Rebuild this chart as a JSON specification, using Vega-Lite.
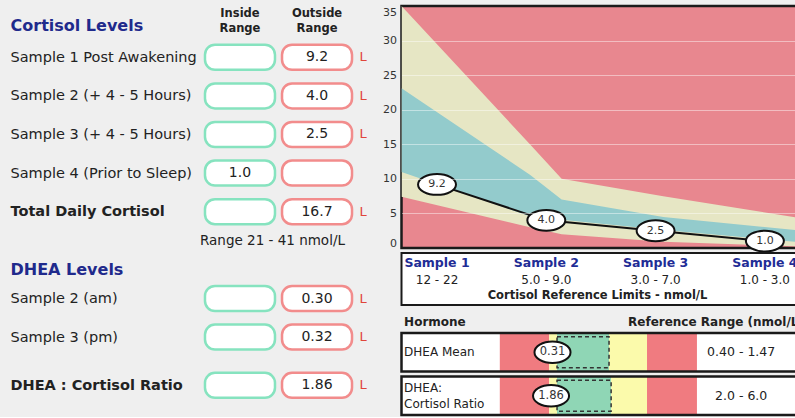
{
  "$schema": "https://vega.github.io/schema/vega-lite/v6.json",
  "background": "#efefef",
  "padding": {"left": 10, "top": 1, "right": 0, "bottom": 0},
  "spacing": 45.5,
  "bounds": "flush",
  "config": {"view": {"stroke": null}, "font": "DejaVu Sans"},
  "datasets": {
    "results": [
      {"label": "Sample 1 Post Awakening", "result": "9.2", "column": "Outside Range", "flag": "L"},
      {"label": "Sample 2 (+ 4 - 5 Hours)", "result": "4.0", "column": "Outside Range", "flag": "L"},
      {"label": "Sample 3 (+ 4 - 5 Hours)", "result": "2.5", "column": "Outside Range", "flag": "L"},
      {"label": "Sample 4 (Prior to Sleep)", "result": "1.0", "column": "Inside Range", "flag": ""},
      {"label": "Total Daily Cortisol", "result": "16.7", "column": "Outside Range", "flag": "L"},
      {"label": "Sample 2 (am)", "result": "0.30", "column": "Outside Range", "flag": "L"},
      {"label": "Sample 3 (pm)", "result": "0.32", "column": "Outside Range", "flag": "L"},
      {"label": "DHEA : Cortisol Ratio", "result": "1.86", "column": "Outside Range", "flag": "L"}
    ],
    "columns": [
      {"label": "Cortisol Levels", "column": "Inside Range"},
      {"label": "Cortisol Levels", "column": "Outside Range"}
    ],
    "notes": [{"label": "Range 21 - 41 nmol/L"}],
    "samples": [
      {"sample": 1, "name": "Sample 1", "limits": "12 - 22", "cortisol": 9.2},
      {"sample": 2, "name": "Sample 2", "limits": "5.0 - 9.0", "cortisol": 4.0},
      {"sample": 3, "name": "Sample 3", "limits": "3.0 - 7.0", "cortisol": 2.5},
      {"sample": 4, "name": "Sample 4", "limits": "1.0 - 3.0", "cortisol": 1.0}
    ],
    "bands": [
      {"s": 0.675, "low_border": 7.4, "ref_low": 11.0, "ref_high": 23.1, "high_border": 35},
      {"s": 1.85, "low_border": 3.0, "ref_low": 4.6, "ref_high": 10.6, "high_border": 15.0},
      {"s": 2.14, "low_border": 2.0, "ref_low": 4.1, "ref_high": 7.0, "high_border": 10.0},
      {"s": 3.07, "low_border": 0.9, "ref_low": 2.6, "ref_high": 4.5, "high_border": 7.5},
      {"s": 4.34, "low_border": 0.2, "ref_low": 0.8, "ref_high": 2.5, "high_border": 4.3}
    ],
    "caption": [{"caption": "Cortisol Reference Limits - nmol/L"}],
    "header": [{"column": "Hormone"}, {"column": "Reference Range (nmol/L)"}],
    "hormones": [
      {"hormone": "DHEA Mean", "result": "0.31", "position": -0.087, "reference": "0.40 - 1.47"},
      {"hormone": "DHEA:\nCortisol Ratio", "result": "1.86", "position": -0.115, "reference": "2.0 - 6.0"}
    ],
    "zones": [
      {"hormone": "DHEA Mean", "zone": "low", "start": -1.1, "end": -0.15},
      {"hormone": "DHEA Mean", "zone": "borderline low", "start": -0.15, "end": 0},
      {"hormone": "DHEA Mean", "zone": "in range", "start": 0, "end": 1},
      {"hormone": "DHEA Mean", "zone": "borderline high", "start": 1, "end": 1.73},
      {"hormone": "DHEA Mean", "zone": "high", "start": 1.73, "end": 2.69},
      {"hormone": "DHEA:\nCortisol Ratio", "zone": "low", "start": -1.1, "end": -0.15},
      {"hormone": "DHEA:\nCortisol Ratio", "zone": "borderline low", "start": -0.15, "end": 0},
      {"hormone": "DHEA:\nCortisol Ratio", "zone": "in range", "start": 0, "end": 1.04},
      {"hormone": "DHEA:\nCortisol Ratio", "zone": "borderline high", "start": 1.04, "end": 1.73},
      {"hormone": "DHEA:\nCortisol Ratio", "zone": "high", "start": 1.73, "end": 2.69}
    ]
  },
  "hconcat": [
    {
      "width": 155,
      "height": 382.4,
      "encoding": {
        "y": {
          "field": "label", "type": "nominal",
          "scale": {
            "type": "point", "padding": 0.316,
            "domain": ["_a", "_b", "Cortisol Levels", "_1", "_2", "Sample 1 Post Awakening", "_4", "_5", "_6",
              "Sample 2 (+ 4 - 5 Hours)", "_8", "_9", "_10", "Sample 3 (+ 4 - 5 Hours)", "_12", "_13", "_14",
              "Sample 4 (Prior to Sleep)", "_16", "_17", "_18", "Total Daily Cortisol", "_20", "_21",
              "Range 21 - 41 nmol/L", "_23", "_24", "DHEA Levels", "_26", "_27", "Sample 2 (am)", "_29", "_30", "_31",
              "Sample 3 (pm)", "_33", "_34", "_35", "_36", "DHEA : Cortisol Ratio"]
          },
          "axis": {
            "orient": "left", "domain": false, "ticks": false, "title": null, "grid": false,
            "labelAlign": "left", "labelPadding": 191, "labelOverlap": false, "labelLimit": 0,
            "labelExpr": "indexof(datum.value, '_') == 0 || indexof(datum.value, 'Range') == 0 ? '' : datum.value",
            "labelOffset": {"condition": {"test": "datum.value == 'Cortisol Levels'", "value": -3}, "value": 0},
            "labelFontSize": {"condition": {"test": "datum.value == 'Cortisol Levels' || datum.value == 'DHEA Levels'", "value": 16}, "value": 14.5},
            "labelFontWeight": {"condition": {"test": "datum.value == 'Cortisol Levels' || datum.value == 'DHEA Levels' || datum.value == 'Total Daily Cortisol' || datum.value == 'DHEA : Cortisol Ratio'", "value": "bold"}, "value": "normal"},
            "labelColor": {"condition": {"test": "datum.value == 'Cortisol Levels' || datum.value == 'DHEA Levels'", "value": "#1f2a8c"}, "value": "#222222"}
          }
        }
      },
      "layer": [
        {
          "data": {"name": "results"},
          "mark": {"type": "rect", "width": 70, "height": 25, "cornerRadius": 10, "fill": "white", "stroke": "#86e3bf", "strokeWidth": 2.5},
          "encoding": {"x": {"datum": "Inside Range", "type": "nominal", "scale": {"type": "point", "domain": ["Inside Range", "Outside Range"], "padding": 0.506}, "axis": null}}
        },
        {
          "data": {"name": "results"},
          "mark": {"type": "rect", "width": 70, "height": 25, "cornerRadius": 10, "fill": "white", "stroke": "#f28c8c", "strokeWidth": 2.5},
          "encoding": {"x": {"datum": "Outside Range", "type": "nominal"}}
        },
        {
          "data": {"name": "results"},
          "mark": {"type": "text", "fontSize": 14, "color": "#222222"},
          "encoding": {"x": {"field": "column", "type": "nominal"}, "text": {"field": "result"}}
        },
        {
          "data": {"name": "results"},
          "mark": {"type": "text", "fontSize": 13, "color": "#e0453a", "dx": 46},
          "encoding": {"x": {"datum": "Outside Range", "type": "nominal"}, "text": {"field": "flag"}}
        },
        {
          "data": {"name": "columns"},
          "mark": {"type": "text", "fontSize": 11.5, "fontWeight": "bold", "color": "#222222", "lineBreak": " ", "baseline": "top", "dy": -20, "lineHeight": 15},
          "encoding": {"x": {"field": "column", "type": "nominal"}, "text": {"field": "column"}}
        },
        {
          "data": {"name": "notes"},
          "mark": {"type": "text", "fontSize": 13.5, "color": "#222222", "align": "left", "dx": -40},
          "encoding": {"x": {"datum": "Inside Range", "type": "nominal"}, "text": {"field": "label"}}
        }
      ]
    },
    {
      "spacing": 5,
      "bounds": "flush",
      "vconcat": [
        {
          "width": 400,
          "height": 242,
          "view": {"fill": "#e8878f", "stroke": "#1a1a1a", "strokeWidth": 2.5},
          "encoding": {
            "x": {"type": "quantitative", "scale": {"domain": [0.675, 4.335], "nice": false, "zero": false}, "axis": null}
          },
          "layer": [
            {
              "data": {"name": "bands"},
              "mark": {"type": "area", "color": "#e6e6c4", "opacity": 1, "clip": true},
              "encoding": {
                "x": {"field": "s", "type": "quantitative"},
                "y": {"field": "low_border", "type": "quantitative", "scale": {"domain": [0, 35], "nice": false},
                  "axis": {"values": [0, 5, 10, 15, 20, 25, 30, 35], "title": null, "domain": false, "ticks": false, "labelPadding": 5,
                    "labelFontSize": 11, "labelColor": "#333333", "labelFlush": true, "labelOverlap": false, "grid": true, "gridColor": "white",
                    "gridOpacity": {"condition": {"test": "datum.value == 0 || datum.value == 35", "value": 0}, "value": 0.45}, "zindex": 1}},
                "y2": {"field": "high_border"}
              }
            },
            {
              "data": {"name": "bands"},
              "mark": {"type": "area", "color": "#93cbcc", "opacity": 1, "clip": true},
              "encoding": {
                "x": {"field": "s", "type": "quantitative"},
                "y": {"field": "ref_low", "type": "quantitative",
                  "axis": {"values": [0, 5, 10, 15, 20, 25, 30, 35], "title": null, "domain": false, "ticks": false, "labelPadding": 5,
                    "labelFontSize": 11, "labelColor": "#333333", "labelFlush": true, "labelOverlap": false, "grid": true, "gridColor": "white",
                    "gridOpacity": {"condition": {"test": "datum.value == 0 || datum.value == 35", "value": 0}, "value": 0.45}, "zindex": 1}},
                "y2": {"field": "ref_high"}
              }
            },
            {
              "data": {"name": "samples"},
              "mark": {"type": "line", "color": "#111111", "strokeWidth": 2},
              "encoding": {
                "x": {"field": "sample", "type": "quantitative"},
                "y": {"field": "cortisol", "type": "quantitative",
                  "axis": {"values": [0, 5, 10, 15, 20, 25, 30, 35], "title": null, "domain": false, "ticks": false, "labelPadding": 5,
                    "labelFontSize": 11, "labelColor": "#333333", "labelFlush": true, "labelOverlap": false, "grid": true, "gridColor": "white",
                    "gridOpacity": {"condition": {"test": "datum.value == 0 || datum.value == 35", "value": 0}, "value": 0.45}, "zindex": 1}}
              }
            },
            {
              "data": {"name": "samples"},
              "mark": {"type": "point", "shape": "M-1,0A1,0.55,0,1,0,1,0A1,0.55,0,1,0,-1,0Z", "size": 1440, "filled": true, "fill": "white", "stroke": "#111111", "strokeWidth": 2, "opacity": 1},
              "encoding": {
                "x": {"field": "sample", "type": "quantitative"},
                "y": {"field": "cortisol", "type": "quantitative",
                  "axis": {"values": [0, 5, 10, 15, 20, 25, 30, 35], "title": null, "domain": false, "ticks": false, "labelPadding": 5,
                    "labelFontSize": 11, "labelColor": "#333333", "labelFlush": true, "labelOverlap": false, "grid": true, "gridColor": "white",
                    "gridOpacity": {"condition": {"test": "datum.value == 0 || datum.value == 35", "value": 0}, "value": 0.45}, "zindex": 1}}
              }
            },
            {
              "data": {"name": "samples"},
              "mark": {"type": "text", "fontSize": 11, "color": "#333333"},
              "encoding": {
                "x": {"field": "sample", "type": "quantitative"},
                "y": {"field": "cortisol", "type": "quantitative",
                  "axis": {"values": [0, 5, 10, 15, 20, 25, 30, 35], "title": null, "domain": false, "ticks": false, "labelPadding": 5,
                    "labelFontSize": 11, "labelColor": "#333333", "labelFlush": true, "labelOverlap": false, "grid": true, "gridColor": "white",
                    "gridOpacity": {"condition": {"test": "datum.value == 0 || datum.value == 35", "value": 0}, "value": 0.45}, "zindex": 1}},
                "text": {"field": "cortisol", "format": ".1f"}
              }
            }
          ]
        },
        {
          "width": 400,
          "height": 52,
          "view": {"fill": "white", "stroke": "#1a1a1a", "strokeWidth": 2},
          "layer": [
            {
              "data": {"name": "samples"},
              "mark": {"type": "text", "fontSize": 12.5, "fontWeight": "bold", "color": "#1f2d96", "dy": 1},
              "encoding": {
                "x": {"field": "sample", "type": "quantitative", "scale": {"domain": [0.675, 4.335], "nice": false, "zero": false}, "axis": null},
                "y": {"datum": "name", "type": "nominal", "scale": {"type": "point", "domain": ["name", "limits", "caption"], "padding": 0.5}, "axis": null},
                "text": {"field": "name"}
              }
            },
            {
              "data": {"name": "samples"},
              "mark": {"type": "text", "fontSize": 12, "color": "#222222", "dy": 1},
              "encoding": {
                "x": {"field": "sample", "type": "quantitative"},
                "y": {"datum": "limits", "type": "nominal"},
                "text": {"field": "limits"}
              }
            },
            {
              "data": {"name": "caption"},
              "mark": {"type": "text", "fontSize": 11.5, "fontWeight": "bold", "color": "#222222", "dx": -4},
              "encoding": {
                "y": {"datum": "caption", "type": "nominal"},
                "text": {"field": "caption"}
              }
            }
          ]
        },
        {
          "width": 400,
          "height": 18,
          "data": {"name": "header"},
          "layer": [
            {
              "transform": [{"filter": "datum.column == 'Hormone'"}],
              "mark": {"type": "text", "fontSize": 12, "fontWeight": "bold", "color": "#222222", "align": "left", "dy": 3},
              "encoding": {
                "x": {"datum": -2.94, "type": "quantitative", "scale": {"domain": [-2.99, 4.7], "nice": false, "zero": false}, "axis": null},
                "text": {"field": "column"}
              }
            },
            {
              "transform": [{"filter": "datum.column != 'Hormone'"}],
              "mark": {"type": "text", "fontSize": 12, "fontWeight": "bold", "color": "#222222", "align": "left", "dy": 3},
              "encoding": {
                "x": {"datum": 1.365, "type": "quantitative"},
                "text": {"field": "column"}
              }
            }
          ]
        },
        {
          "width": 400,
          "height": 82,
          "encoding": {
            "y": {"field": "hormone", "type": "nominal", "scale": {"domain": ["DHEA Mean", "DHEA:\nCortisol Ratio"], "paddingInner": 0.115, "paddingOuter": 0}, "axis": null}
          },
          "layer": [
            {
              "data": {"name": "hormones"},
              "mark": {"type": "rect", "fill": "white"},
              "encoding": {
                "x": {"datum": -2.99, "type": "quantitative", "scale": {"domain": [-2.99, 4.7], "nice": false, "zero": false}, "axis": null},
                "x2": {"datum": 5.2}
              }
            },
            {
              "data": {"name": "zones"},
              "mark": {"type": "rect"},
              "encoding": {
                "x": {"field": "start", "type": "quantitative"},
                "x2": {"field": "end"},
                "color": {"field": "zone", "type": "nominal", "legend": null,
                  "scale": {"domain": ["low", "borderline low", "in range", "borderline high", "high"],
                    "range": ["#f07b80", "#fbfaab", "#8fd6b5", "#fbfaab", "#f07b80"]}}
              }
            },
            {
              "data": {"name": "zones"},
              "transform": [{"filter": "datum.zone == 'in range'"}],
              "mark": {"type": "rect", "fill": null, "stroke": "#333333", "strokeWidth": 1.5, "strokeDash": [4, 3], "height": {"band": 0.8}},
              "encoding": {
                "x": {"field": "start", "type": "quantitative"},
                "x2": {"field": "end"}
              }
            },
            {
              "data": {"name": "hormones"},
              "mark": {"type": "rect", "fill": null, "stroke": "#1a1a1a", "strokeWidth": 2.5},
              "encoding": {
                "x": {"datum": -2.99, "type": "quantitative"},
                "x2": {"datum": 5.2}
              }
            },
            {
              "data": {"name": "hormones"},
              "mark": {"type": "point", "shape": "M-1,0A1,0.6,0,1,0,1,0A1,0.6,0,1,0,-1,0Z", "size": 1300, "filled": true, "fill": "white", "stroke": "#111111", "strokeWidth": 2, "opacity": 1},
              "encoding": {"x": {"field": "position", "type": "quantitative"}}
            },
            {
              "data": {"name": "hormones"},
              "mark": {"type": "text", "fontSize": 11.5, "color": "#333333"},
              "encoding": {"x": {"field": "position", "type": "quantitative"}, "text": {"field": "result"}}
            },
            {
              "data": {"name": "hormones"},
              "transform": [{"filter": "datum.hormone == 'DHEA Mean'"}],
              "mark": {"type": "text", "fontSize": 12, "color": "#222222", "align": "left"},
              "encoding": {"x": {"datum": -2.94, "type": "quantitative"}, "text": {"field": "hormone"}}
            },
            {
              "data": {"name": "hormones"},
              "transform": [{"filter": "datum.hormone != 'DHEA Mean'"}],
              "mark": {"type": "text", "fontSize": 12, "color": "#222222", "align": "left", "lineBreak": "\n", "lineHeight": 16, "dy": -8},
              "encoding": {"x": {"datum": -2.94, "type": "quantitative"}, "text": {"field": "hormone"}}
            },
            {
              "data": {"name": "hormones"},
              "mark": {"type": "text", "fontSize": 12.5, "color": "#222222"},
              "encoding": {"x": {"datum": 3.54, "type": "quantitative"}, "text": {"field": "reference"}}
            }
          ]
        }
      ]
    }
  ]
}
